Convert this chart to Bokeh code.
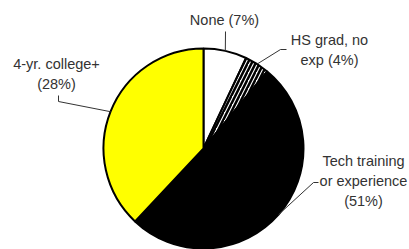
import numpy as np
from bokeh.plotting import figure
from bokeh.models import Range1d, ColumnDataSource
from bokeh.embed import file_html
from bokeh.resources import INLINE
from bokeh.core.properties import value

# ---- data ----
categories = ["None", "HS grad, no exp", "Tech training or experience", "4-yr. college+"]
shares = [7, 4, 51, 38]  # slice sizes as drawn (percent of the pie)
label_texts = ["None (7%)", "HS grad, no\nexp (4%)", "Tech training\nor experience\n(51%)", "4-yr. college+\n(28%)"]
fills = ["#FFFFFF", "#FFFFFF", "#000000", "#FFFF00"]
hatches = [" ", "/", " ", " "]

# ---- layout (page coordinates: x right, y down) ----
W, H = 409, 249
CX, CY, R = 203, 148, 100
label_pos = [(224, 19), (329, 49), (363, 180), (56, 73)]
leader_via = [[(225, 31)], [(280, 49), (286, 49)], [(313, 182), (318, 182)], [(58, 101), (58, 95)]]

def fy(y):
    return H - y

p = figure(width=W, height=H, output_backend="svg", toolbar_location=None,
           x_range=Range1d(0, W), y_range=Range1d(0, H), min_border=0)
p.axis.visible = False
p.grid.visible = False
p.outline_line_color = None
p.background_fill_color = "white"
p.border_fill_color = "white"

vals = np.array(shares, dtype=float)
cum = np.cumsum(vals) / vals.sum()
prev = np.concatenate([[0.0], cum[:-1]])
a_hi = np.pi / 2 - 2 * np.pi * prev
a_lo = np.pi / 2 - 2 * np.pi * cum
mid = (a_hi + a_lo) / 2

src = ColumnDataSource(dict(cat=categories, start=a_lo, end=a_hi, fill=fills, hatch=hatches))
p.wedge(x=CX, y=fy(CY), radius=R, start_angle="start", end_angle="end", source=src,
        fill_color="fill", hatch_pattern="hatch", hatch_color="black", hatch_scale=8,
        hatch_weight=2.5, line_color="black", line_width=2)

# leader lines
xs, ys = [], []
for m, via in zip(mid, leader_via):
    sx = CX + R * np.cos(m)
    sy = fy(CY) + R * np.sin(m)
    xs.append([sx] + [v[0] for v in via])
    ys.append([sy] + [fy(v[1]) for v in via])
p.multi_line(xs=xs, ys=ys, line_color="#333333", line_width=1)

# labels
p.text(x=[q[0] for q in label_pos], y=[fy(q[1]) for q in label_pos], text=label_texts,
       text_font=value("Liberation Sans"), text_font_size="14.5px", text_color="#333333",
       text_align="center", text_baseline="middle", text_line_height=1.25)

open("out.html", "w").write(file_html(p, INLINE))
